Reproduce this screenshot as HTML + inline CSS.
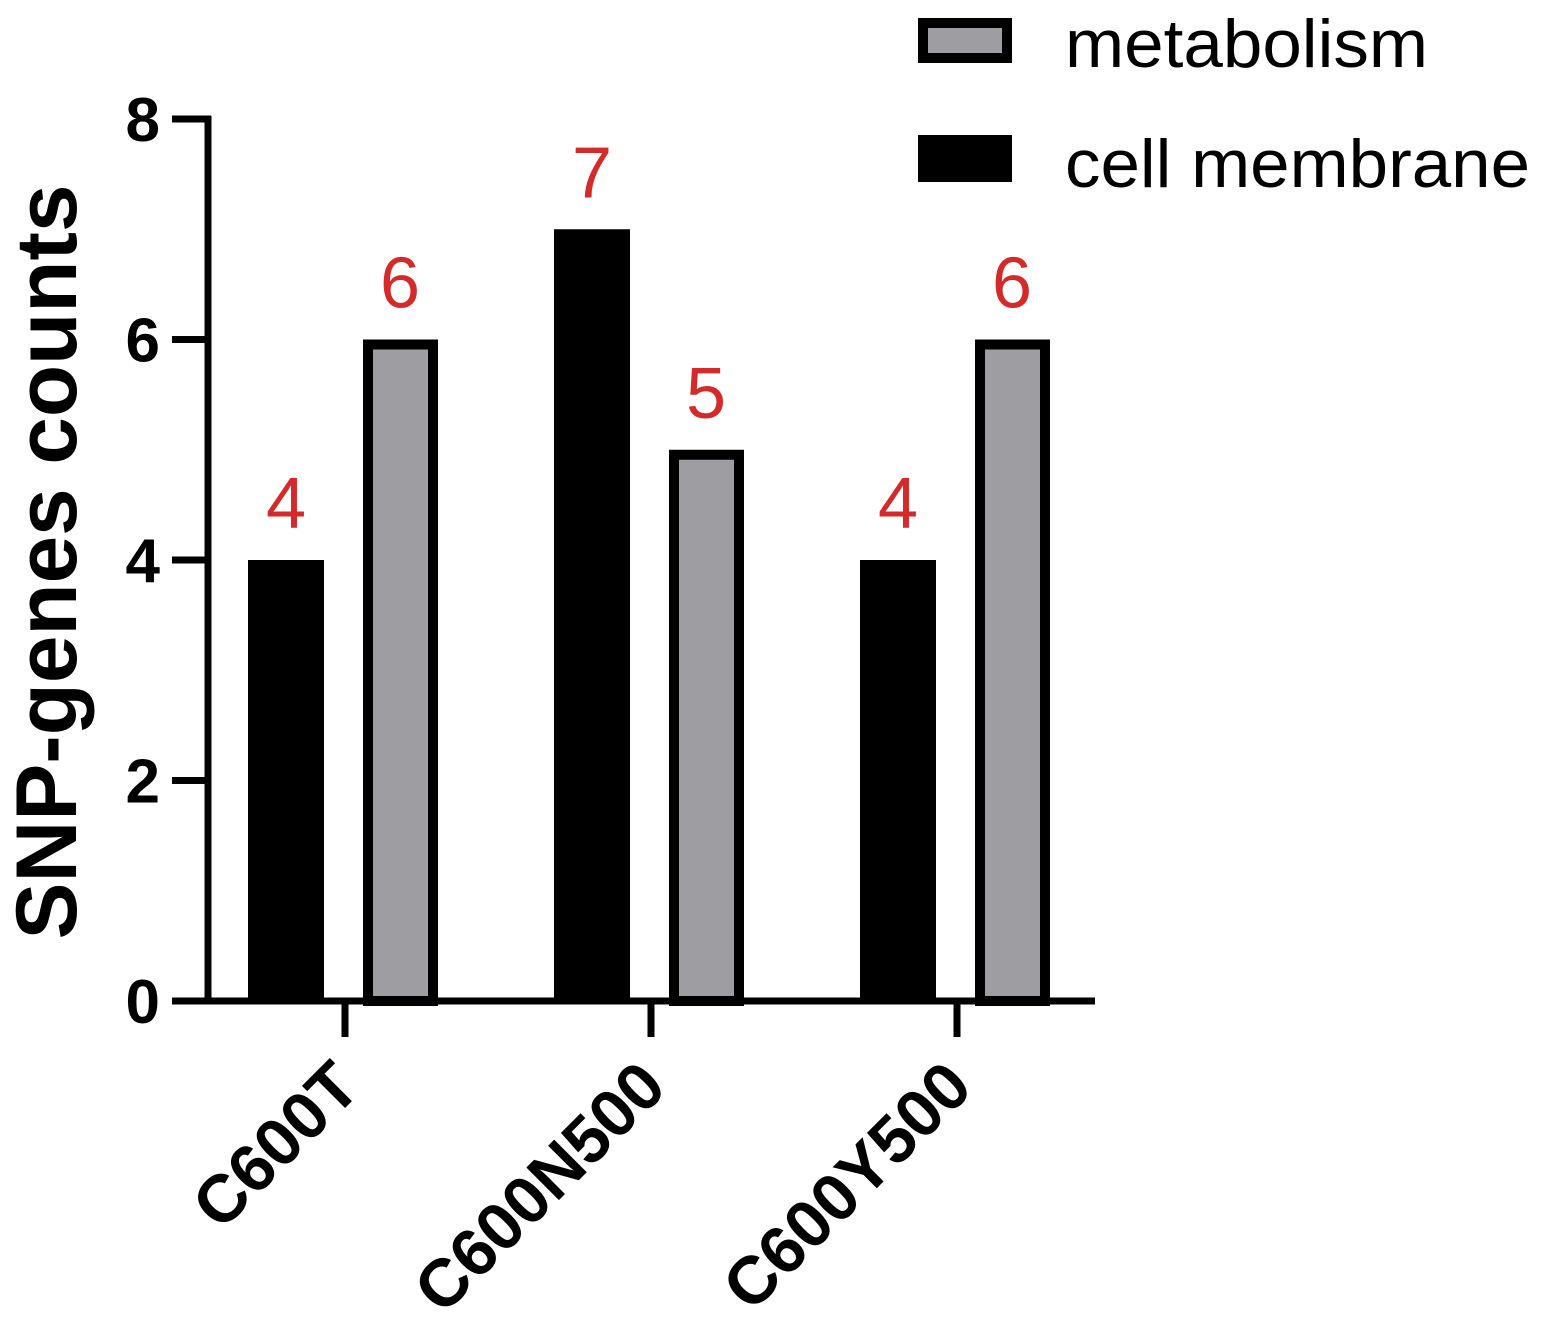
<!DOCTYPE html>
<html><head><meta charset="utf-8"><style>
html,body{margin:0;padding:0;background:#fff;}
svg{display:block;font-family:"Liberation Sans",sans-serif;}
</style></head><body>
<svg id="chart" width="1546" height="1324" viewBox="0 0 1546 1324">
<g id="plot"></g>
<text transform="translate(76,562) rotate(-90)" text-anchor="middle" font-weight="bold" font-size="86" textLength="755" lengthAdjust="spacingAndGlyphs">SNP-genes counts</text>
<g>
<rect x="923" y="23" width="84" height="35" fill="#9e9da2" stroke="#000" stroke-width="10"/>
<text x="1065" y="67" font-size="68" textLength="363" lengthAdjust="spacingAndGlyphs">metabolism</text>
<rect x="918" y="135" width="94" height="47" fill="#000"/>
<text x="1065" y="187" font-size="68" textLength="465" lengthAdjust="spacingAndGlyphs">cell membrane</text>
</g>
</svg>
<script>
const categories = ["C600T","C600N500","C600Y500"];
const cellMembrane = [4,7,4];
const metabolism = [6,5,6];
const yTicks = [0,2,4,6,8];

const NS="http://www.w3.org/2000/svg";
const plot=document.getElementById('plot');
const y0=1001, yTop=119, yMax=8;
function yScale(v){return y0-(v/yMax)*(y0-yTop);}
function xScale(i){return 345+i*306;}
function mk(tag,attrs){const e=document.createElementNS(NS,tag);for(const k in attrs)e.setAttribute(k,attrs[k]);plot.appendChild(e);return e;}

categories.forEach((c,i)=>{
  const cx=xScale(i);
  const b=mk('rect',{x:cx-97,y:yScale(cellMembrane[i]),width:76,height:y0-yScale(cellMembrane[i]),fill:'#000'});
  
  
  const g=mk('rect',{x:cx+23,y:yScale(metabolism[i])+5,width:65,height:y0-yScale(metabolism[i])-5,fill:'#9e9da2',stroke:'#000','stroke-width':10});
  
  
  const t1=mk('text',{x:cx-59,y:yScale(cellMembrane[i])-32,'text-anchor':'middle','font-size':72,fill:'#d42a2a'});
  t1.textContent=cellMembrane[i];
  
  
  const t2=mk('text',{x:cx+55,y:yScale(metabolism[i])-32,'text-anchor':'middle','font-size':72,fill:'#d42a2a'});
  t2.textContent=metabolism[i];
  
  
  const tk=mk('line',{x1:cx,x2:cx,y1:y0,y2:1037,stroke:'#000','stroke-width':7});
  
  
  const lx=cx+18, ly=1090;
  const lb=mk('text',{x:lx,y:ly,'text-anchor':'end','font-size':67,'font-weight':'bold',transform:`rotate(-45 ${lx} ${ly})`});
  lb.textContent=c;
  
  
});

yTicks.forEach(v=>{
  const y=yScale(v);
  const l=mk('line',{x1:172,x2:211,y1:y,y2:y,stroke:'#000','stroke-width':7});
  
  
  const t=mk('text',{x:160,y:y+22,'text-anchor':'end','font-size':62,'font-weight':'bold'});
  t.textContent=v;
  
  
});
const ya=mk('line',{x1:208,x2:208,y1:yTop-3,y2:y0+3,stroke:'#000','stroke-width':7});


const xa=mk('line',{x1:172,x2:1095,y1:y0,y2:y0,stroke:'#000','stroke-width':7});


</script>
</body></html>
